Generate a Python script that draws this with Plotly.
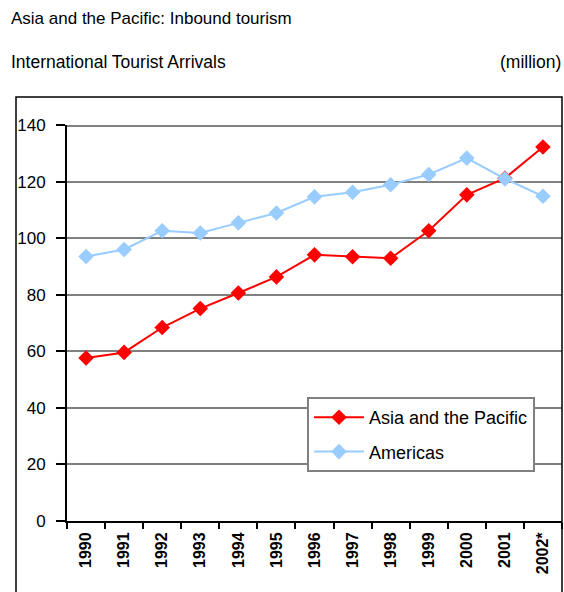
import plotly.graph_objects as go

years = ["1990", "1991", "1992", "1993", "1994", "1995", "1996", "1997",
         "1998", "1999", "2000", "2001", "2002*"]
asia_pacific = [57.6, 59.6, 68.4, 75.1, 80.6, 86.3, 94.1, 93.4, 92.9, 102.6, 115.3, 121.2, 132.2]
americas = [93.5, 96.0, 102.6, 101.8, 105.4, 108.9, 114.6, 116.2, 118.9, 122.5, 128.3, 121.0, 114.8]
y_ticks = [0, 20, 40, 60, 80, 100, 120, 140]

FONT = "Liberation Sans, Arial, sans-serif"

fig = go.Figure()
fig.add_trace(go.Scatter(
    x=years, y=asia_pacific, name="Asia and the Pacific", mode="lines+markers",
    line=dict(color="#ff0000", width=2),
    marker=dict(symbol="diamond", size=12, color="#ff0000"),
    legendgroup="a",
))
fig.add_trace(go.Scatter(
    x=years, y=americas, name="Americas", mode="lines+markers",
    line=dict(color="#99ccff", width=2),
    marker=dict(symbol="diamond", size=12, color="#99ccff"),
    legendgroup="b",
))

L, R, T, B = 67, 2, 125, 71
W, H = 564, 592
pw, ph = W - L - R, H - T - B

def px(x):
    return (x - L) / pw

def py(y):
    return (H - B - y) / ph

fig.update_layout(
    width=W, height=H,
    margin=dict(l=L, r=R, t=T, b=B, pad=0, autoexpand=False),
    paper_bgcolor="white", plot_bgcolor="white",
    showlegend=True,
    legend=dict(
        x=px(307), y=py(397), xanchor="left", yanchor="top",
        bordercolor="#808080", borderwidth=2, bgcolor="white",
        font=dict(family=FONT, size=18, color="black"),
        traceorder="grouped", tracegroupgap=8, itemwidth=50,
    ),
    xaxis=dict(
        type="category", showgrid=False, showline=True, linecolor="black", linewidth=2,
        ticks="outside", ticklen=6, tickwidth=2, tickcolor="black", tickson="boundaries",
        tickangle=-90, tickfont=dict(family=FONT, size=16, color="black", weight="bold"),
        range=[-0.5, 12.5], zeroline=False, ticklabelstandoff=3,
    ),
    yaxis=dict(
        range=[0, 140], tickvals=y_ticks, showgrid=True, gridcolor="#808080", gridwidth=2,
        showline=True, linecolor="black", linewidth=2, zeroline=False,
        ticks="outside", ticklen=9, tickwidth=2, tickcolor="black",
        tickfont=dict(family=FONT, size=17, color="black"), ticklabelstandoff=7,
    ),
    shapes=[
        dict(type="line", xref="paper", yref="y", x0=0, x1=1, y0=140, y1=140,
             line=dict(color="#808080", width=4), layer="below"),
        dict(type="rect", xref="paper", yref="paper", x0=px(16), x1=px(562),
             y0=py(97), y1=py(620), line=dict(color="black", width=1.5)),
    ],
    annotations=[
        dict(text="Asia and the Pacific: Inbound tourism", xref="paper", yref="paper",
             x=px(9), y=py(18), xanchor="left", yanchor="middle", showarrow=False,
             font=dict(family=FONT, size=17, color="black")),
        dict(text="International Tourist Arrivals", xref="paper", yref="paper",
             x=px(9), y=py(62), xanchor="left", yanchor="middle", showarrow=False,
             font=dict(family=FONT, size=17.5, color="black")),
        dict(text="(million)", xref="paper", yref="paper",
             x=px(563), y=py(62), xanchor="right", yanchor="middle", showarrow=False,
             font=dict(family=FONT, size=17.5, color="black")),
    ],
)

fig.write_html("out.html", config={"displayModeBar": False},
               post_script="document.body.style.margin='0px';")
